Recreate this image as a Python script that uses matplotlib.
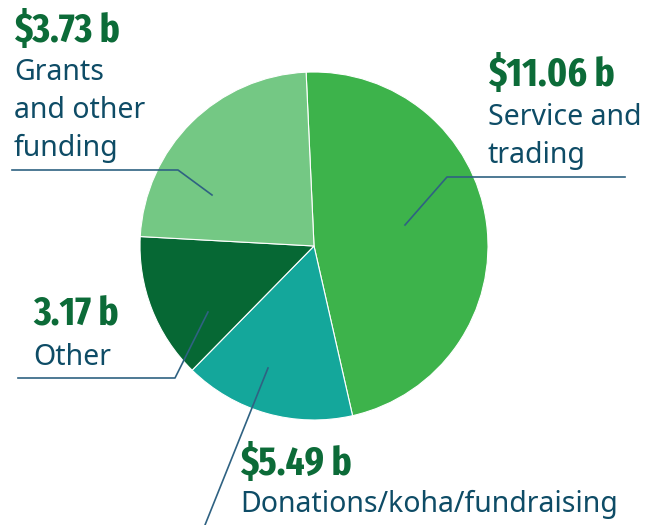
import matplotlib.pyplot as plt

# slices in drawing order (clockwise from the top)
categories = ['Service and\ntrading', 'Donations/koha/fundraising', 'Other', 'Grants\nand other\nfunding']
amounts = ['$11.06 b', '$5.49 b', '3.17 b', '$3.73 b']
# slice sizes as drawn in the reference
slice_sizes = [11.06, 3.73, 3.17, 5.49]
colors = ['#3db34b', '#14a79b', '#066834', '#74c884']

W, H = 660, 525
fig = plt.figure(figsize=(W / 100, H / 100), dpi=100)
ax = fig.add_axes([0, 0, 1, 1])

cx, cy, r = 314, H - 246, 174
ax.pie(slice_sizes, colors=colors, startangle=92.6, counterclock=False,
       center=(cx, cy), radius=r, frame=True,
       wedgeprops=dict(edgecolor='white', linewidth=0.8))
ax.set_xlim(0, W)
ax.set_ylim(0, H)
ax.set_aspect('equal')
ax.axis('off')

value_col = '#0c6b38'
label_col = '#0e4c66'
line_col = '#2f6282'

# label positions: (x, amount baseline, first label baseline) in pixels from top
spots = {
    0: (488, 86, 125),
    1: (240, 475, 512),
    2: (33, 325, 365),
    3: (14, 42, 80),
}
for i, (x, yv, yl) in spots.items():
    ax.text(x, H - yv, amounts[i], fontsize=29, fontweight='bold',
            family=['Fira Sans Extra Condensed', 'DejaVu Sans'],
            color=value_col, va='baseline', ha='left')
    for k, line in enumerate(categories[i].split('\n')):
        ax.text(x, H - (yl + 38 * k), line, fontsize=20.5, family='Noto Sans',
                color=label_col, va='baseline', ha='left')

# leader lines
leaders = [
    [(405, 225), (447, 177), (625, 177)],
    [(268, 368), (205, 525)],
    [(208, 312), (175, 378), (18, 378)],
    [(212, 195), (178, 170), (12, 170)],
]
for pts in leaders:
    xs = [p[0] for p in pts]
    ys = [H - p[1] for p in pts]
    ax.plot(xs, ys, color=line_col, lw=1.2, clip_on=False)

fig.savefig('out.png', dpi=100)
